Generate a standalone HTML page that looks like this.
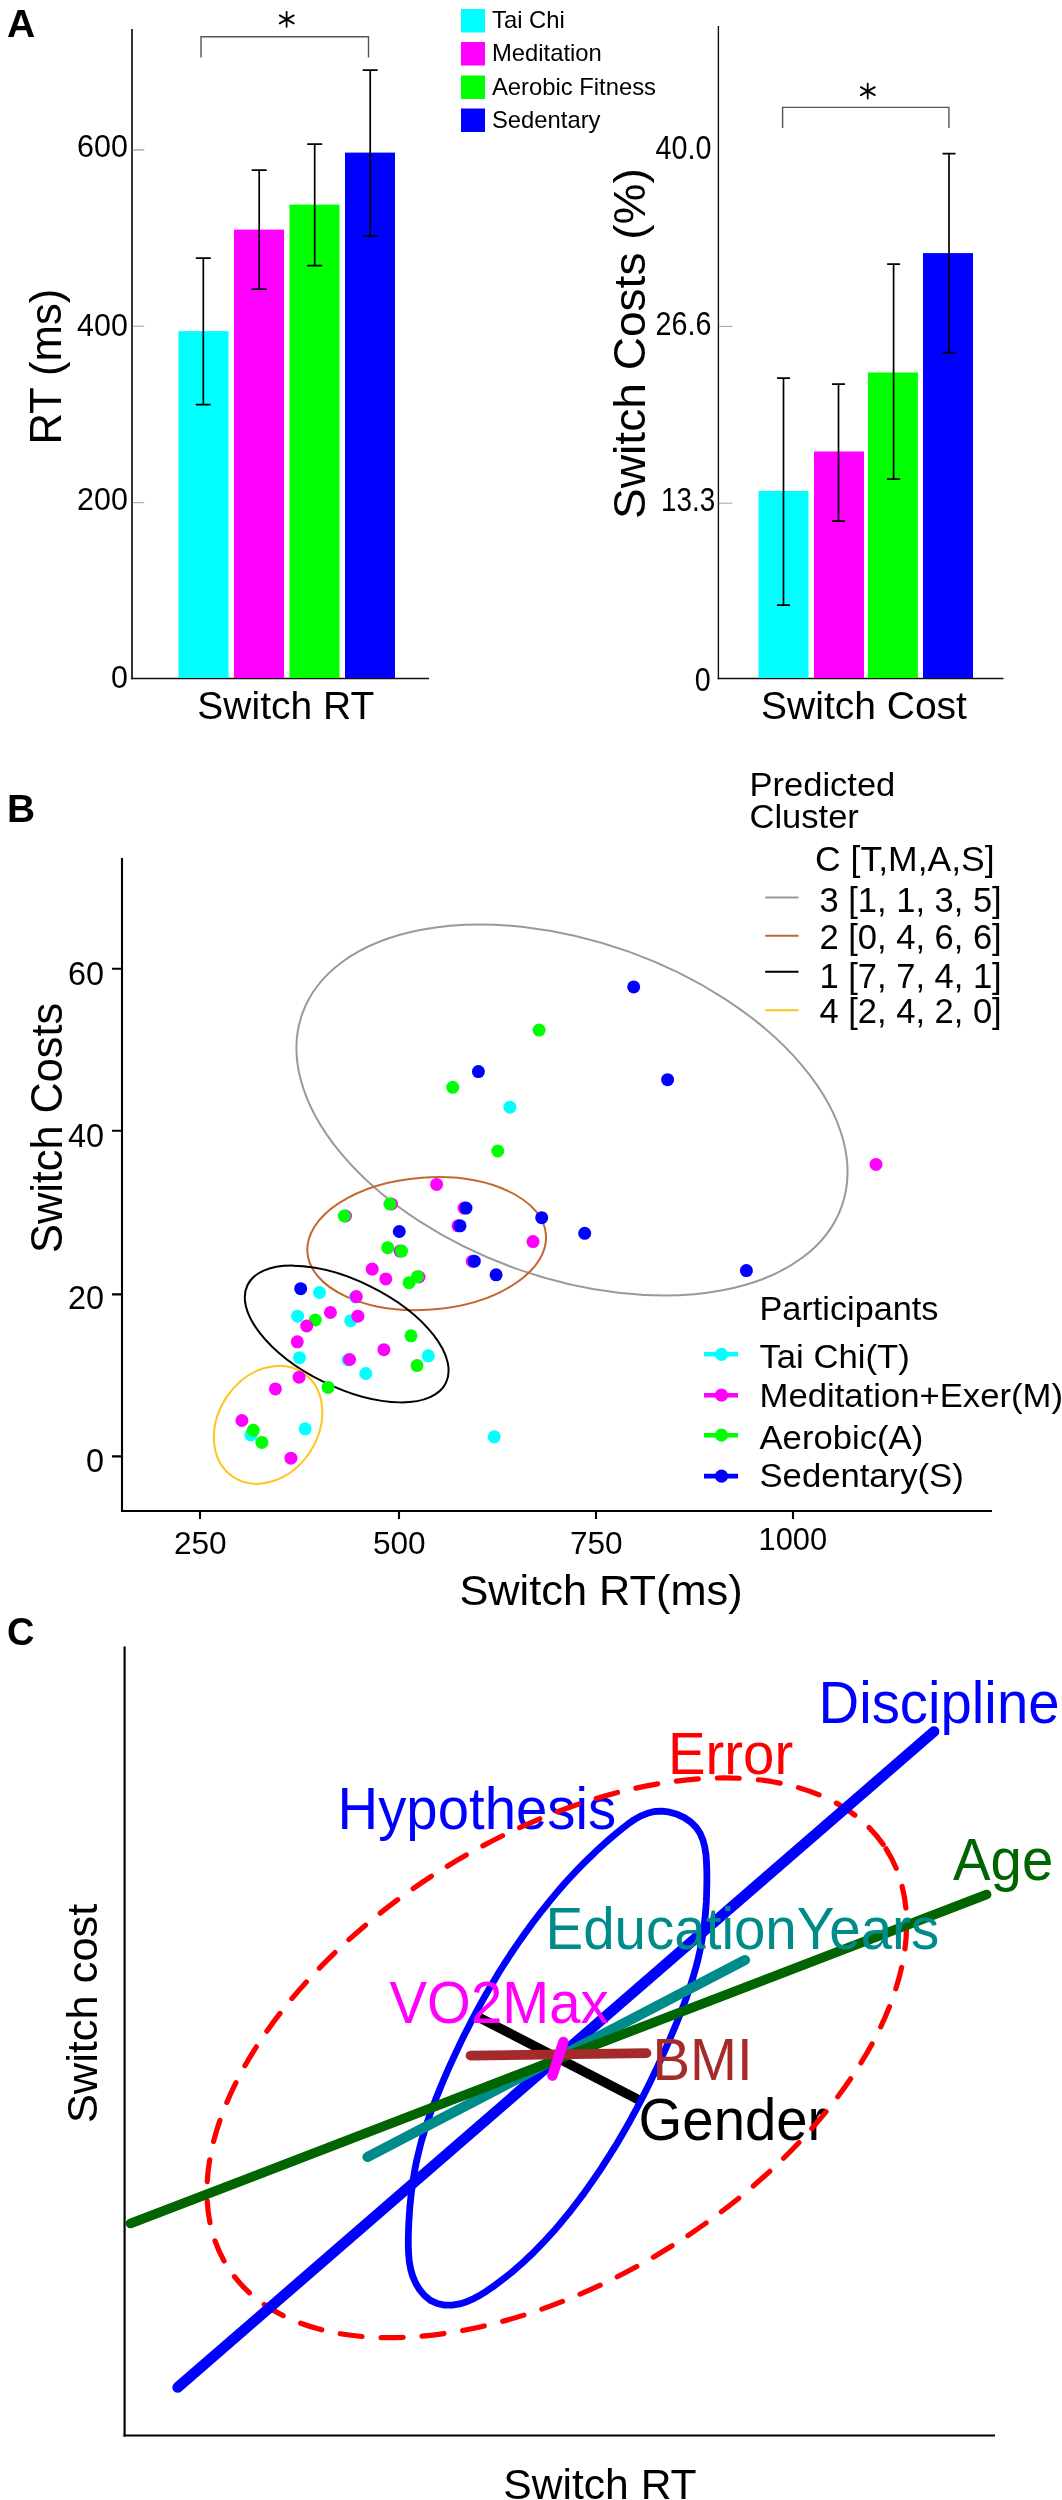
<!DOCTYPE html>
<html><head><meta charset="utf-8">
<style>
html,body{margin:0;padding:0;background:#fff;}
svg{display:block;font-family:"Liberation Sans",sans-serif;will-change:transform;transform:translateZ(0);}
</style></head><body>
<svg width="1062" height="2500" viewBox="0 0 1062 2500">
<rect width="1062" height="2500" fill="#fff"/>
<!-- ================= PANEL A ================= -->
<g id="panelA">
<text x="7" y="36.8" font-size="39" font-weight="bold" fill="#000">A</text>
<!-- left chart -->
<g stroke="#111" stroke-width="1.7" fill="none">
<line x1="132" y1="29" x2="132" y2="679.3"/>
<line x1="131.2" y1="678.5" x2="429" y2="678.5"/>
</g>
<g stroke="#999" stroke-width="0.9">
<line x1="132.8" y1="149.9" x2="144.3" y2="149.9" stroke-width="1.5" stroke="#aaa"/>
<line x1="132.8" y1="326.2" x2="144.3" y2="326.2"/>
<line x1="132.8" y1="502.7" x2="144.3" y2="502.7"/>
</g>
<g font-size="32" text-anchor="end" fill="#000">
<text transform="translate(127.8,157.3) scale(0.95,1)">600</text>
<text transform="translate(127.8,336) scale(0.95,1)">400</text>
<text transform="translate(127.8,509.5) scale(0.95,1)">200</text>
<text transform="translate(127.8,688) scale(0.95,1)">0</text>
</g>
<text transform="translate(61.3,366.7) rotate(-90) scale(0.98,1)" font-size="44.5" text-anchor="middle" fill="#000">RT (ms)</text>
<rect x="178.5" y="331.1" width="50" height="346.9" fill="#00ffff"/>
<rect x="234" y="229.6" width="50" height="448.4" fill="#ff00ff"/>
<rect x="289.5" y="204.6" width="50" height="473.4" fill="#00ff00"/>
<rect x="345" y="152.6" width="50" height="525.4" fill="#0000ff"/>
<g stroke="#000" stroke-width="1.7" fill="none">
<path d="M203.3 258.1V404.6M195.8 258.1h15M195.8 404.6h15"/>
<path d="M259.2 170.1V289.1M251.7 170.1h15M251.7 289.1h15"/>
<path d="M314.7 144.1V265.6M307.2 144.1h15M307.2 265.6h15"/>
<path d="M370.2 70.1V236.1M362.7 70.1h15M362.7 236.1h15"/>
</g>
<path d="M201 57.5V36.7H368.5V57.5" stroke="#555" stroke-width="1.4" fill="none"/>
<path d="M286.6 11.8V26.8M279.7 15.4L293.7 23.4M279.7 23.4L293.7 15.4" stroke="#000" stroke-width="1.8" stroke-linecap="round" fill="none"/>
<text x="285.8" y="718.5" font-size="39" text-anchor="middle" fill="#000">Switch RT</text>
<!-- legend -->
<rect x="461" y="9" width="24" height="23.5" fill="#00ffff"/>
<rect x="461" y="42" width="24" height="23.5" fill="#ff00ff"/>
<rect x="461" y="75.5" width="24" height="23.5" fill="#00ff00"/>
<rect x="461" y="108.5" width="24" height="23.5" fill="#0000ff"/>
<g font-size="23.8" fill="#000">
<text x="492" y="27.5">Tai Chi</text>
<text x="492" y="61">Meditation</text>
<text x="492" y="94.5">Aerobic Fitness</text>
<text x="492" y="128">Sedentary</text>
</g>
<!-- right chart -->
<g stroke="#111" stroke-width="1.4" fill="none">
<line x1="718.4" y1="26" x2="718.4" y2="679.2"/>
<line x1="717.7" y1="678.5" x2="1003.5" y2="678.5"/>
</g>
<g stroke="#999" stroke-width="0.9">
<line x1="719.2" y1="326.4" x2="732.5" y2="326.4"/>
<line x1="719.2" y1="503.2" x2="732.5" y2="503.2"/>
</g>
<g font-size="33.5" text-anchor="end" fill="#000">
<text transform="translate(711.4,159.2) scale(0.857,1)">40.0</text>
<text transform="translate(711.4,335) scale(0.857,1)">26.6</text>
<text transform="translate(715.2,510.8) scale(0.83,1)">13.3</text>
<text transform="translate(710.8,691) scale(0.857,1)">0</text>
</g>
<text transform="translate(645.4,343.5) rotate(-90) scale(1.06,1)" font-size="43.5" text-anchor="middle" fill="#000">Switch Costs (%)</text>
<rect x="758.5" y="491" width="50" height="187" fill="#00ffff"/>
<rect x="814" y="451.5" width="50" height="226.5" fill="#ff00ff"/>
<rect x="867.9" y="372.5" width="50" height="305.5" fill="#00ff00"/>
<rect x="923" y="253.1" width="50" height="424.9" fill="#0000ff"/>
<g stroke="#000" stroke-width="1.7" fill="none">
<path d="M783.5 378.2V605.2M777 378.2h13M777 605.2h13"/>
<path d="M838.5 384.2V521.2M832 384.2h13M832 521.2h13"/>
<path d="M893.6 264.2V479.2M887.1 264.2h13M887.1 479.2h13"/>
<path d="M949 153.7V352.7M942.5 153.7h13M942.5 352.7h13"/>
</g>
<path d="M782.6 128V107.4H948.9V128" stroke="#555" stroke-width="1.4" fill="none"/>
<path d="M867.7 83.6V98.6M860.8 87.1L874.8 95.1M860.8 95.1L874.8 87.1" stroke="#000" stroke-width="1.8" stroke-linecap="round" fill="none"/>
<text x="864" y="718.5" font-size="39" text-anchor="middle" fill="#000">Switch Cost</text>
</g>
<!--PB_START--><!-- ================= PANEL B ================= -->
<g id="panelB">
<text x="7" y="821.5" font-size="39" font-weight="bold" fill="#000">B</text>
<g stroke="#000" stroke-width="2.1" fill="none">
<line x1="122" y1="858" x2="122" y2="1512"/>
<line x1="121" y1="1511" x2="992" y2="1511"/>
<path d="M112 968.8H122M112 1130.8H122M112 1294.4H122M112 1456.4H122"/>
<path d="M200 1511V1519M399 1511V1519M596 1511V1519M793 1511V1519"/>
</g>
<g font-size="32.4" text-anchor="end" fill="#000">
<text x="104.1" y="985">60</text>
<text x="104.1" y="1147">40</text>
<text x="104.1" y="1309.4">20</text>
<text x="104.1" y="1472.2">0</text>
</g>
<g font-size="31.6" text-anchor="middle" fill="#000">
<text x="200.3" y="1553.7">250</text>
<text x="399.3" y="1553.7">500</text>
<text x="596.3" y="1553.7">750</text>
<text transform="translate(792.8,1549.6) scale(0.975,1)">1000</text>
</g>
<text transform="translate(62,1127.9) rotate(-90) scale(0.971,1)" font-size="44.6" text-anchor="middle" fill="#000">Switch Costs</text>
<text transform="translate(601,1604.5) scale(1.02,1)" font-size="42.5" text-anchor="middle" fill="#000">Switch RT(ms)</text>
<!-- ellipses -->
<g fill="none" stroke-width="2">
<ellipse cx="572" cy="1110" rx="286.4" ry="168.2" transform="rotate(19.7 572 1110)" stroke="#999"/>
<ellipse cx="426.7" cy="1243.6" rx="119.6" ry="66.1" transform="rotate(-4.2 426.7 1243.6)" stroke="#c4672e"/>
<ellipse cx="346.7" cy="1334" rx="110.6" ry="53.2" transform="rotate(26.3 346.7 1334)" stroke="#000"/>
<ellipse cx="268.1" cy="1424.8" rx="62.7" ry="49.9" transform="rotate(-56 268.1 1424.8)" stroke="#ffc31a"/>
</g>
<!-- points -->
<g id="pts">
<circle cx="319.5" cy="1292.5" r="6.5" fill="#00ffff"/>
<circle cx="297.6" cy="1316.2" r="6.5" fill="#00ffff"/>
<circle cx="350.7" cy="1320.7" r="6.5" fill="#00ffff"/>
<circle cx="299.5" cy="1357.7" r="6.5" fill="#00ffff"/>
<circle cx="428.3" cy="1355.8" r="6.5" fill="#00ffff"/>
<circle cx="365.8" cy="1373.5" r="6.5" fill="#00ffff"/>
<circle cx="250.9" cy="1434.9" r="6.5" fill="#00ffff"/>
<circle cx="305.2" cy="1428.8" r="6.5" fill="#00ffff"/>
<circle cx="494.2" cy="1436.8" r="6.5" fill="#00ffff"/>
<circle cx="509.9" cy="1107.2" r="6.5" fill="#00ffff"/>
<circle cx="355.5" cy="1297.0" r="6.5" fill="#00ffff"/>
<circle cx="348.0" cy="1360.0" r="6.5" fill="#00ffff"/>
<circle cx="436.6" cy="1184.4" r="6.5" fill="#ff00ff"/>
<circle cx="464.0" cy="1208.1" r="6.5" fill="#ff00ff"/>
<circle cx="458.0" cy="1225.8" r="6.5" fill="#ff00ff"/>
<circle cx="533.0" cy="1241.6" r="6.5" fill="#ff00ff"/>
<circle cx="400.0" cy="1251.1" r="6.5" fill="#ff00ff"/>
<circle cx="372.2" cy="1269.1" r="6.5" fill="#ff00ff"/>
<circle cx="385.8" cy="1278.9" r="6.5" fill="#ff00ff"/>
<circle cx="472.3" cy="1261.2" r="6.5" fill="#ff00ff"/>
<circle cx="356.3" cy="1296.6" r="6.5" fill="#ff00ff"/>
<circle cx="330.4" cy="1312.5" r="6.5" fill="#ff00ff"/>
<circle cx="357.9" cy="1316.2" r="6.5" fill="#ff00ff"/>
<circle cx="297.3" cy="1341.8" r="6.5" fill="#ff00ff"/>
<circle cx="383.9" cy="1349.7" r="6.5" fill="#ff00ff"/>
<circle cx="349.6" cy="1359.5" r="6.5" fill="#ff00ff"/>
<circle cx="299.1" cy="1377.2" r="6.5" fill="#ff00ff"/>
<circle cx="275.4" cy="1388.9" r="6.5" fill="#ff00ff"/>
<circle cx="241.9" cy="1420.5" r="6.5" fill="#ff00ff"/>
<circle cx="290.9" cy="1458.2" r="6.5" fill="#ff00ff"/>
<circle cx="876.0" cy="1164.4" r="6.5" fill="#ff00ff"/>
<circle cx="345.5" cy="1216.0" r="6.5" fill="#ff00ff"/>
<circle cx="391.5" cy="1204.0" r="6.5" fill="#ff00ff"/>
<circle cx="419.0" cy="1277.0" r="6.5" fill="#ff00ff"/>
<circle cx="497.8" cy="1151.0" r="6.5" fill="#00ff00"/>
<circle cx="389.9" cy="1204.0" r="6.5" fill="#00ff00"/>
<circle cx="344.3" cy="1216.0" r="6.5" fill="#00ff00"/>
<circle cx="387.7" cy="1247.7" r="6.5" fill="#00ff00"/>
<circle cx="401.6" cy="1251.1" r="6.5" fill="#00ff00"/>
<circle cx="417.4" cy="1276.7" r="6.5" fill="#00ff00"/>
<circle cx="409.1" cy="1282.7" r="6.5" fill="#00ff00"/>
<circle cx="315.3" cy="1320.0" r="6.5" fill="#00ff00"/>
<circle cx="411.0" cy="1335.8" r="6.5" fill="#00ff00"/>
<circle cx="417.0" cy="1365.6" r="6.5" fill="#00ff00"/>
<circle cx="328.1" cy="1387.4" r="6.5" fill="#00ff00"/>
<circle cx="253.2" cy="1430.3" r="6.5" fill="#00ff00"/>
<circle cx="261.9" cy="1442.4" r="6.5" fill="#00ff00"/>
<circle cx="539.1" cy="1030.1" r="6.5" fill="#00ff00"/>
<circle cx="452.7" cy="1087.3" r="6.5" fill="#00ff00"/>
<circle cx="306.7" cy="1326.0" r="6.5" fill="#ff00ff"/>
<circle cx="466.0" cy="1208.1" r="6.5" fill="#0000ff"/>
<circle cx="460.0" cy="1225.8" r="6.5" fill="#0000ff"/>
<circle cx="541.7" cy="1217.7" r="6.5" fill="#0000ff"/>
<circle cx="399.3" cy="1231.5" r="6.5" fill="#0000ff"/>
<circle cx="474.3" cy="1261.2" r="6.5" fill="#0000ff"/>
<circle cx="496.1" cy="1274.8" r="6.5" fill="#0000ff"/>
<circle cx="584.7" cy="1233.3" r="6.5" fill="#0000ff"/>
<circle cx="300.7" cy="1288.7" r="6.5" fill="#0000ff"/>
<circle cx="633.7" cy="986.9" r="6.5" fill="#0000ff"/>
<circle cx="478.4" cy="1071.6" r="6.5" fill="#0000ff"/>
<circle cx="667.6" cy="1079.7" r="6.5" fill="#0000ff"/>
<circle cx="746.4" cy="1270.6" r="6.5" fill="#0000ff"/>
</g>
<!-- legend cluster -->
<g font-size="33.2" fill="#000">
<text transform="translate(749.5,796) scale(1.04,1)">Predicted</text>
<text transform="translate(749.5,828) scale(1.04,1)">Cluster</text>
</g>
<g font-size="34.5" fill="#000">
<text transform="translate(815,870.5) scale(1.03,1)">C [T,M,A,S]</text>
<text x="819.5" y="912">3 [1, 1, 3, 5]</text>
<text x="819.5" y="949.4">2 [0, 4, 6, 6]</text>
<text x="819.5" y="988.2">1 [7, 7, 4, 1]</text>
<text x="819.5" y="1022.8">4 [2, 4, 2, 0]</text>
</g>
<g stroke-width="2.1" fill="none">
<line x1="765.2" y1="897.5" x2="798.5" y2="897.5" stroke="#999"/>
<line x1="765.2" y1="935.8" x2="798.5" y2="935.8" stroke="#c4672e"/>
<line x1="765.2" y1="971.7" x2="798.5" y2="971.7" stroke="#000"/>
<line x1="765.2" y1="1010.2" x2="798.5" y2="1010.2" stroke="#ffc31a"/>
</g>
<!-- legend participants -->
<g font-size="34" fill="#000">
<text transform="translate(759.5,1320) scale(1.008,1)">Participants</text>
<text transform="translate(759.5,1367.8) scale(1.02,1)">Tai Chi(T)</text>
<text transform="translate(759.5,1406.8) scale(1.02,1)">Meditation+Exer(M)</text>
<text transform="translate(759.5,1449.2) scale(1.02,1)">Aerobic(A)</text>
<text transform="translate(759.5,1487) scale(1.02,1)">Sedentary(S)</text>
</g>
<g stroke-width="4.6" stroke-linecap="butt">
<line x1="704" y1="1354.3" x2="738" y2="1354.3" stroke="#00ffff"/><circle cx="721.5" cy="1354.3" r="6.6" fill="#00ffff"/>
<line x1="704" y1="1395.2" x2="738" y2="1395.2" stroke="#ff00ff"/><circle cx="721.5" cy="1395.2" r="6.6" fill="#ff00ff"/>
<line x1="704" y1="1435.2" x2="738" y2="1435.2" stroke="#00ff00"/><circle cx="721.5" cy="1435.2" r="6.6" fill="#00ff00"/>
<line x1="704" y1="1476.1" x2="738" y2="1476.1" stroke="#0000ff"/><circle cx="721.5" cy="1476.1" r="6.6" fill="#0000ff"/>
</g>
</g>
<!--PB_END-->
<!--PC_START--><!-- ================= PANEL C ================= -->
<g id="panelC">
<text x="7" y="1645.3" font-size="38" font-weight="bold" fill="#000">C</text>
<g stroke="#000" stroke-width="2.2" fill="none">
<line x1="124.6" y1="1646.4" x2="124.6" y2="2436.6"/>
<line x1="123.5" y1="2435.5" x2="995" y2="2435.5"/>
</g>
<text transform="translate(97.3,2013.4) rotate(-90)" font-size="43.4" text-anchor="middle" fill="#000">Switch cost</text>
<text x="600" y="2498.6" font-size="42.6" text-anchor="middle" fill="#000">Switch RT</text>
<!-- z-ordered content -->
<g stroke-linecap="round" fill="none" font-size="59.3">
<line x1="478.6" y1="2017.2" x2="636.6" y2="2098.8" stroke="#000" stroke-width="9.6"/>
<text transform="translate(638.5,2140) scale(0.95,1)" fill="#000" stroke="none">Gender</text>
<path d="M654.5 1811.5 L662.1 1811.2 L669.7 1812.2 L677.2 1814.3 L684.3 1817.6 L690.6 1821.9 L696.0 1827.2 L700.0 1833.2 L702.9 1840.0 L704.8 1847.2 L706.0 1854.9 L706.5 1862.7 L706.8 1870.7 L706.9 1878.5 L706.8 1886.3 L706.6 1894.1 L706.3 1901.7 L705.8 1909.4 L705.1 1916.9 L704.3 1924.4 L703.3 1931.9 L702.1 1939.3 L700.8 1946.7 L699.2 1954.1 L697.5 1961.5 L695.5 1968.8 L693.4 1976.1 L691.2 1983.3 L688.8 1990.6 L686.3 1997.8 L683.7 2005.0 L680.9 2012.2 L678.1 2019.3 L675.2 2026.4 L672.2 2033.5 L669.2 2040.6 L666.1 2047.6 L663.0 2054.7 L659.8 2061.6 L656.6 2068.6 L653.3 2075.5 L650.0 2082.4 L646.6 2089.3 L643.1 2096.1 L639.6 2102.9 L636.1 2109.7 L632.4 2116.4 L628.8 2123.1 L625.0 2129.7 L621.2 2136.3 L617.3 2142.9 L613.3 2149.4 L609.3 2155.8 L605.2 2162.2 L601.1 2168.6 L596.8 2174.9 L592.5 2181.2 L588.1 2187.4 L583.7 2193.6 L579.1 2199.7 L574.5 2205.8 L569.8 2211.8 L565.0 2217.7 L560.1 2223.6 L555.2 2229.4 L550.1 2235.1 L544.9 2240.7 L539.7 2246.2 L534.3 2251.7 L528.8 2257.0 L523.2 2262.2 L517.5 2267.3 L511.7 2272.3 L505.7 2277.1 L499.6 2281.8 L493.4 2286.4 L487.0 2290.8 L480.5 2294.9 L473.8 2298.6 L466.8 2301.7 L459.6 2303.9 L452.1 2305.1 L444.5 2305.1 L437.2 2303.5 L430.4 2300.3 L424.4 2295.4 L419.5 2289.5 L415.6 2283.0 L412.7 2276.2 L410.6 2269.0 L409.3 2261.5 L408.6 2253.9 L408.3 2246.2 L408.3 2238.4 L408.5 2230.6 L408.8 2222.8 L409.3 2215.1 L409.8 2207.4 L410.6 2199.8 L411.4 2192.2 L412.4 2184.7 L413.6 2177.2 L414.9 2169.7 L416.3 2162.2 L418.0 2154.9 L419.8 2147.5 L421.7 2140.2 L423.9 2132.9 L426.1 2125.6 L428.6 2118.4 L431.1 2111.2 L433.8 2104.1 L436.6 2097.0 L439.5 2089.9 L442.4 2082.8 L445.4 2075.8 L448.5 2068.7 L451.7 2061.7 L454.9 2054.8 L458.1 2047.8 L461.4 2040.9 L464.8 2034.1 L468.3 2027.2 L471.8 2020.4 L475.4 2013.6 L479.0 2006.9 L482.7 2000.2 L486.5 1993.5 L490.3 1986.9 L494.2 1980.4 L498.1 1973.8 L502.2 1967.3 L506.3 1960.9 L510.4 1954.5 L514.7 1948.2 L519.0 1941.9 L523.3 1935.7 L527.8 1929.5 L532.3 1923.3 L536.9 1917.3 L541.5 1911.3 L546.3 1905.3 L551.1 1899.4 L555.9 1893.6 L560.9 1887.8 L565.9 1882.1 L571.0 1876.5 L576.3 1870.9 L581.6 1865.4 L587.0 1860.0 L592.5 1854.7 L598.0 1849.4 L603.7 1844.2 L609.5 1839.1 L615.4 1834.1 L621.5 1829.1 L627.6 1824.3 L633.9 1819.9 L640.5 1816.1 L647.4 1813.3Z" stroke="#0000ff" stroke-width="6.8" stroke-linejoin="round"/>
<text transform="translate(337.5,1828.5) scale(0.95,1)" fill="#0000ff" stroke="none">Hypothesis</text>
<ellipse cx="556.8" cy="2057.8" rx="390" ry="220.5" transform="rotate(-32.4 556.8 2057.8)" stroke="#ff0000" stroke-width="5.2" stroke-dasharray="22 19"/>
<text transform="translate(668,1774) scale(0.95,1)" fill="#ff0000" stroke="none">Error</text>
<line x1="177.7" y1="2387.4" x2="934" y2="1731.5" stroke="#0000ff" stroke-width="10.7"/>
<text transform="translate(818.5,1722.5) scale(0.95,1)" fill="#0000ff" stroke="none">Discipline</text>
<line x1="367.5" y1="2157" x2="745" y2="1960" stroke="#008b8b" stroke-width="10.2"/>
<line x1="130.5" y1="2223.5" x2="986.6" y2="1894.5" stroke="#006400" stroke-width="9.6"/>
<text transform="translate(545.5,1948.5) scale(0.953,1)" fill="#008b8b" stroke="none">EducationYears</text>
<text transform="translate(953,1880) scale(0.95,1)" fill="#006400" stroke="none">Age</text>
<line x1="470.5" y1="2055.6" x2="646.5" y2="2053.2" stroke="#a52a2a" stroke-width="9.7"/>
<text transform="translate(652.5,2080) scale(0.95,1)" fill="#a52a2a" stroke="none">BMI</text>
<line x1="563.4" y1="2042" x2="552.4" y2="2075.6" stroke="#ff00ff" stroke-width="10.4"/>
<text transform="translate(389.5,2022.5) scale(0.95,1)" fill="#ff00ff" stroke="none">VO2Max</text>
</g>
</g>
<!--PC_END-->
</svg>
</body></html>
